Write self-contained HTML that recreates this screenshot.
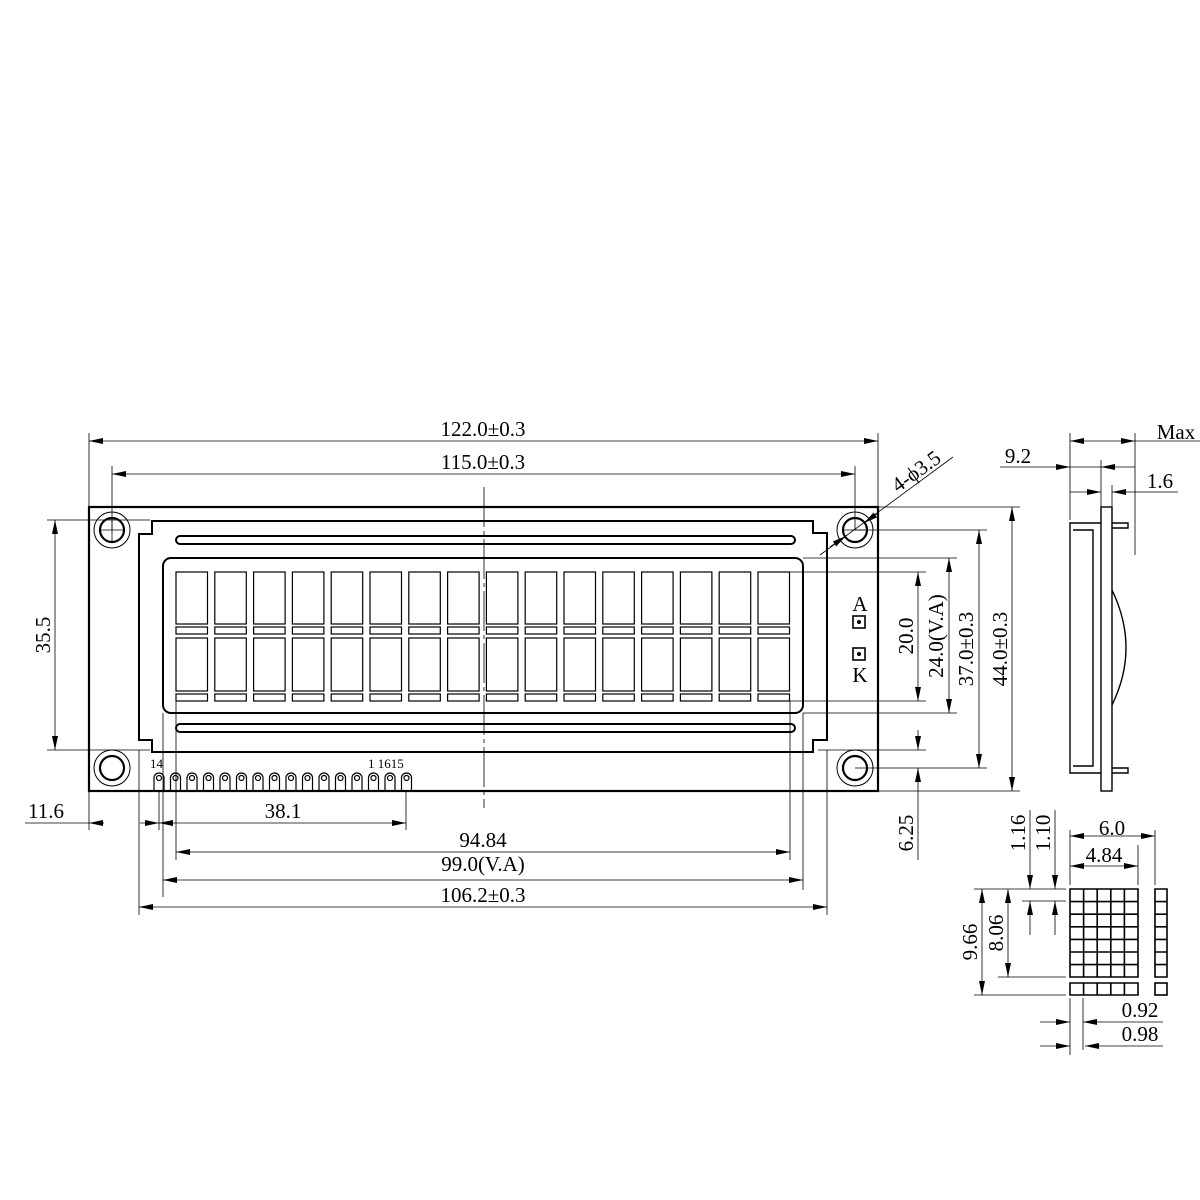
<!DOCTYPE html>
<html><head><meta charset="utf-8"><style>
html,body{margin:0;padding:0;background:#fff}
svg{display:block}
text{font-family:"Liberation Serif",serif;fill:#000}
</style></head><body>
<svg width="1200" height="1200" viewBox="0 0 1200 1200" xmlns="http://www.w3.org/2000/svg">
<defs>
<marker id="a" viewBox="0 0 14 6" refX="14" refY="3" markerWidth="14" markerHeight="6" markerUnits="userSpaceOnUse" orient="auto-start-reverse"><path d="M0,0 L14,3 L0,6z" fill="#000"/></marker>
</defs>
<g fill="none" stroke="#000" stroke-width="1">
<rect x="89" y="507" width="789" height="284" stroke-width="2.2"/>
<path d="M152,521 L813,521 L813,533 L827,533 L827,740 L813,740 L813,752 L152,752 L152,740 L139,740 L139,534 L152,534 Z" stroke-width="2"/>
<rect x="176" y="536" width="619" height="8" rx="4" stroke-width="2"/>
<rect x="176" y="724" width="619" height="8" rx="4" stroke-width="2"/>
<rect x="163" y="558" width="640" height="155" rx="8" stroke-width="2"/>
<circle cx="112" cy="530" r="18"/><circle cx="112" cy="530" r="12" stroke-width="2.2"/>
<circle cx="855" cy="530" r="18"/><circle cx="855" cy="530" r="12" stroke-width="2.2"/>
<circle cx="112" cy="768" r="18"/><circle cx="112" cy="768" r="12" stroke-width="2.2"/>
<circle cx="855" cy="768" r="18"/><circle cx="855" cy="768" r="12" stroke-width="2.2"/>
<rect x="853" y="616" width="12" height="12" stroke-width="1.6"/><circle cx="859" cy="622" r="1.5" fill="#000"/>
<rect x="853" y="648" width="12" height="12" stroke-width="1.6"/><circle cx="859" cy="654" r="1.5" fill="#000"/>
</g>
<g fill="none" stroke="#000" stroke-width="1.2">
<rect x="176" y="572" width="31.5" height="52"/><rect x="176" y="627" width="31.5" height="7"/><rect x="176" y="638" width="31.5" height="53"/><rect x="176" y="694" width="31.5" height="7"/>
<rect x="214.8" y="572" width="31.5" height="52"/><rect x="214.8" y="627" width="31.5" height="7"/><rect x="214.8" y="638" width="31.5" height="53"/><rect x="214.8" y="694" width="31.5" height="7"/>
<rect x="253.6" y="572" width="31.5" height="52"/><rect x="253.6" y="627" width="31.5" height="7"/><rect x="253.6" y="638" width="31.5" height="53"/><rect x="253.6" y="694" width="31.5" height="7"/>
<rect x="292.4" y="572" width="31.5" height="52"/><rect x="292.4" y="627" width="31.5" height="7"/><rect x="292.4" y="638" width="31.5" height="53"/><rect x="292.4" y="694" width="31.5" height="7"/>
<rect x="331.2" y="572" width="31.5" height="52"/><rect x="331.2" y="627" width="31.5" height="7"/><rect x="331.2" y="638" width="31.5" height="53"/><rect x="331.2" y="694" width="31.5" height="7"/>
<rect x="370" y="572" width="31.5" height="52"/><rect x="370" y="627" width="31.5" height="7"/><rect x="370" y="638" width="31.5" height="53"/><rect x="370" y="694" width="31.5" height="7"/>
<rect x="408.8" y="572" width="31.5" height="52"/><rect x="408.8" y="627" width="31.5" height="7"/><rect x="408.8" y="638" width="31.5" height="53"/><rect x="408.8" y="694" width="31.5" height="7"/>
<rect x="447.6" y="572" width="31.5" height="52"/><rect x="447.6" y="627" width="31.5" height="7"/><rect x="447.6" y="638" width="31.5" height="53"/><rect x="447.6" y="694" width="31.5" height="7"/>
<rect x="486.4" y="572" width="31.5" height="52"/><rect x="486.4" y="627" width="31.5" height="7"/><rect x="486.4" y="638" width="31.5" height="53"/><rect x="486.4" y="694" width="31.5" height="7"/>
<rect x="525.2" y="572" width="31.5" height="52"/><rect x="525.2" y="627" width="31.5" height="7"/><rect x="525.2" y="638" width="31.5" height="53"/><rect x="525.2" y="694" width="31.5" height="7"/>
<rect x="564" y="572" width="31.5" height="52"/><rect x="564" y="627" width="31.5" height="7"/><rect x="564" y="638" width="31.5" height="53"/><rect x="564" y="694" width="31.5" height="7"/>
<rect x="602.8" y="572" width="31.5" height="52"/><rect x="602.8" y="627" width="31.5" height="7"/><rect x="602.8" y="638" width="31.5" height="53"/><rect x="602.8" y="694" width="31.5" height="7"/>
<rect x="641.6" y="572" width="31.5" height="52"/><rect x="641.6" y="627" width="31.5" height="7"/><rect x="641.6" y="638" width="31.5" height="53"/><rect x="641.6" y="694" width="31.5" height="7"/>
<rect x="680.4" y="572" width="31.5" height="52"/><rect x="680.4" y="627" width="31.5" height="7"/><rect x="680.4" y="638" width="31.5" height="53"/><rect x="680.4" y="694" width="31.5" height="7"/>
<rect x="719.2" y="572" width="31.5" height="52"/><rect x="719.2" y="627" width="31.5" height="7"/><rect x="719.2" y="638" width="31.5" height="53"/><rect x="719.2" y="694" width="31.5" height="7"/>
<rect x="758" y="572" width="31.5" height="52"/><rect x="758" y="627" width="31.5" height="7"/><rect x="758" y="638" width="31.5" height="53"/><rect x="758" y="694" width="31.5" height="7"/>
</g>
<g fill="none" stroke="#000" stroke-width="1.2">
<path d="M154,791 V778 a5,5 0 0 1 10,0 V791"/><circle cx="159" cy="778" r="2.5"/>
<path d="M170.5,791 V778 a5,5 0 0 1 10,0 V791"/><circle cx="175.5" cy="778" r="2.5"/>
<path d="M187,791 V778 a5,5 0 0 1 10,0 V791"/><circle cx="192" cy="778" r="2.5"/>
<path d="M203.5,791 V778 a5,5 0 0 1 10,0 V791"/><circle cx="208.5" cy="778" r="2.5"/>
<path d="M220,791 V778 a5,5 0 0 1 10,0 V791"/><circle cx="225" cy="778" r="2.5"/>
<path d="M236.5,791 V778 a5,5 0 0 1 10,0 V791"/><circle cx="241.5" cy="778" r="2.5"/>
<path d="M253,791 V778 a5,5 0 0 1 10,0 V791"/><circle cx="258" cy="778" r="2.5"/>
<path d="M269.5,791 V778 a5,5 0 0 1 10,0 V791"/><circle cx="274.5" cy="778" r="2.5"/>
<path d="M286,791 V778 a5,5 0 0 1 10,0 V791"/><circle cx="291" cy="778" r="2.5"/>
<path d="M302.5,791 V778 a5,5 0 0 1 10,0 V791"/><circle cx="307.5" cy="778" r="2.5"/>
<path d="M319,791 V778 a5,5 0 0 1 10,0 V791"/><circle cx="324" cy="778" r="2.5"/>
<path d="M335.5,791 V778 a5,5 0 0 1 10,0 V791"/><circle cx="340.5" cy="778" r="2.5"/>
<path d="M352,791 V778 a5,5 0 0 1 10,0 V791"/><circle cx="357" cy="778" r="2.5"/>
<path d="M368.5,791 V778 a5,5 0 0 1 10,0 V791"/><circle cx="373.5" cy="778" r="2.5"/>
<path d="M385,791 V778 a5,5 0 0 1 10,0 V791"/><circle cx="390" cy="778" r="2.5"/>
<path d="M401.5,791 V778 a5,5 0 0 1 10,0 V791"/><circle cx="406.5" cy="778" r="2.5"/>
</g>
<g stroke="#000" stroke-width="0.8" fill="none">
<path d="M484,487 V808" stroke-dasharray="40,4,4,4"/>
<path d="M100,530 H125 M112,518 V542 M843,530 H867"/>
</g>
<g stroke="#000" stroke-width="0.8" fill="none">
<path d="M89,433 V507 M878,433 V507"/>
<line x1="89" y1="441" x2="878" y2="441" marker-start="url(#a)" marker-end="url(#a)"/>
<path d="M112,466 V530 M855,466 V530"/>
<line x1="112" y1="474" x2="855" y2="474" marker-start="url(#a)" marker-end="url(#a)"/>
<line x1="820" y1="555" x2="953" y2="457"/>
<line x1="830" y1="547" x2="846" y2="536" marker-end="url(#a)"/>
<line x1="878" y1="513" x2="864" y2="523" marker-end="url(#a)"/>
<path d="M878,507 H1020 M878,791 H1020"/>
<line x1="1012" y1="507" x2="1012" y2="791" marker-start="url(#a)" marker-end="url(#a)"/>
<path d="M855,530 H987 M855,768 H987"/>
<line x1="979" y1="530" x2="979" y2="768" marker-start="url(#a)" marker-end="url(#a)"/>
<path d="M803,558 H957 M803,713 H957"/>
<line x1="949" y1="558" x2="949" y2="713" marker-start="url(#a)" marker-end="url(#a)"/>
<path d="M790,572 H926 M790,701 H926"/>
<line x1="918" y1="572" x2="918" y2="701" marker-start="url(#a)" marker-end="url(#a)"/>
<path d="M818,750 H926"/>
<line x1="918" y1="730" x2="918" y2="750" marker-end="url(#a)"/>
<line x1="918" y1="790" x2="918" y2="768" marker-end="url(#a)"/>
<line x1="918" y1="790" x2="918" y2="860"/>
<path d="M47,520 H150 M47,750 H150"/>
<line x1="55" y1="520" x2="55" y2="750" marker-start="url(#a)" marker-end="url(#a)"/>
<path d="M89,791 V830 M139,750 V915 M159,791 V830 M163,713 V897 M176,701 V860 M406,791 V830 M790,701 V860 M803,713 V890 M827,750 V915"/>
<line x1="25" y1="823" x2="89" y2="823"/>
<line x1="104" y1="823" x2="89" y2="823" marker-end="url(#a)"/>
<line x1="140" y1="823" x2="159" y2="823" marker-end="url(#a)"/>
<line x1="159" y1="823" x2="406" y2="823" marker-start="url(#a)" marker-end="url(#a)"/>
<line x1="176" y1="852" x2="790" y2="852" marker-start="url(#a)" marker-end="url(#a)"/>
<line x1="163" y1="880" x2="803" y2="880" marker-start="url(#a)" marker-end="url(#a)"/>
<line x1="139" y1="907" x2="827" y2="907" marker-start="url(#a)" marker-end="url(#a)"/>
</g>
<g fill="none" stroke="#000" stroke-width="1.4">
<rect x="1101" y="507" width="11" height="284"/>
<path d="M1101,523 H1070 V773 H1101 M1073,530 H1093 V766 H1073"/>
<path d="M1112,523 H1128 V528 H1112 M1112,768 H1128 V773 H1112"/>
<path d="M1112,590 Q1140,648 1112,705"/>
</g>
<g stroke="#000" stroke-width="0.8" fill="none">
<path d="M1070,433 V520 M1135,433 V555 M1101,460 V507 M1112,485 V507"/>
<line x1="1070" y1="441" x2="1135" y2="441" marker-start="url(#a)" marker-end="url(#a)"/>
<line x1="1135" y1="441" x2="1200" y2="441"/>
<line x1="1000" y1="467" x2="1070" y2="467" marker-end="url(#a)"/>
<line x1="1135" y1="467" x2="1101" y2="467" marker-end="url(#a)"/>
<line x1="1070" y1="467" x2="1101" y2="467"/>
<line x1="1070" y1="492" x2="1101" y2="492" marker-end="url(#a)"/>
<line x1="1178" y1="492" x2="1112" y2="492" marker-end="url(#a)"/>
</g>
<g fill="none" stroke="#000" stroke-width="1.6">
<path d="M1070,889 H1138 V977 H1070 Z M1070,901.6 H1138 M1070,914.2 H1138 M1070,926.8 H1138 M1070,939.4 H1138 M1070,952 H1138 M1070,964.6 H1138 M1083.6,889 V977 M1097.2,889 V977 M1110.8,889 V977 M1124.4,889 V977"/>
<path d="M1070,983 H1138 V995 H1070 Z M1083.6,983 V995 M1097.2,983 V995 M1110.8,983 V995 M1124.4,983 V995"/>
<path d="M1155,889 H1167 V977 H1155 Z M1155,901.6 H1167 M1155,914.2 H1167 M1155,926.8 H1167 M1155,939.4 H1167 M1155,952 H1167 M1155,964.6 H1167"/>
<rect x="1155" y="983" width="12" height="12"/>
</g>
<g stroke="#000" stroke-width="0.8" fill="none">
<path d="M1070,830 V885 M1155,830 V885 M1138,845 V885"/>
<line x1="1070" y1="836" x2="1155" y2="836" marker-start="url(#a)" marker-end="url(#a)"/>
<line x1="1070" y1="866" x2="1138" y2="866" marker-start="url(#a)" marker-end="url(#a)"/>
<path d="M974,889 H1066 M998,977 H1066 M974,995 H1066 M1022,901 H1066"/>
<line x1="982" y1="889" x2="982" y2="995" marker-start="url(#a)" marker-end="url(#a)"/>
<line x1="1008" y1="889" x2="1008" y2="977" marker-start="url(#a)" marker-end="url(#a)"/>
<line x1="1030" y1="810" x2="1030" y2="889" marker-end="url(#a)"/>
<line x1="1030" y1="935" x2="1030" y2="901" marker-end="url(#a)"/>
<line x1="1055" y1="810" x2="1055" y2="889" marker-end="url(#a)"/>
<line x1="1055" y1="935" x2="1055" y2="901" marker-end="url(#a)"/>
<path d="M1070,998 V1055 M1083,998 V1050"/>
<line x1="1040" y1="1022" x2="1070" y2="1022" marker-end="url(#a)"/>
<line x1="1163" y1="1022" x2="1083" y2="1022" marker-end="url(#a)"/>
<line x1="1040" y1="1046" x2="1070" y2="1046" marker-end="url(#a)"/>
<line x1="1163" y1="1046" x2="1085" y2="1046" marker-end="url(#a)"/>
</g>
<g font-size="21">
<text x="483" y="436" text-anchor="middle">122.0±0.3</text>
<text x="483" y="469" text-anchor="middle">115.0±0.3</text>
<text x="0" y="0" transform="translate(898,493) rotate(-36)">4-ϕ3.5</text>
<text x="860" y="611" text-anchor="middle">A</text>
<text x="860" y="682" text-anchor="middle">K</text>
<text transform="translate(913,636) rotate(-90)" text-anchor="middle">20.0</text>
<text transform="translate(943,636) rotate(-90)" text-anchor="middle">24.0(V.A)</text>
<text transform="translate(973,649) rotate(-90)" text-anchor="middle">37.0±0.3</text>
<text transform="translate(1007,649) rotate(-90)" text-anchor="middle">44.0±0.3</text>
<text transform="translate(50,635) rotate(-90)" text-anchor="middle">35.5</text>
<text transform="translate(913,833) rotate(-90)" text-anchor="middle">6.25</text>
<text x="46" y="818" text-anchor="middle">11.6</text>
<text x="283" y="818" text-anchor="middle">38.1</text>
<text x="483" y="847" text-anchor="middle">94.84</text>
<text x="483" y="871" text-anchor="middle">99.0(V.A)</text>
<text x="483" y="902" text-anchor="middle">106.2±0.3</text>
<text x="1176" y="439" text-anchor="middle">Max</text>
<text x="1018" y="463" text-anchor="middle">9.2</text>
<text x="1160" y="488" text-anchor="middle">1.6</text>
<text x="1112" y="835" text-anchor="middle">6.0</text>
<text x="1104" y="862" text-anchor="middle">4.84</text>
<text transform="translate(977,942) rotate(-90)" text-anchor="middle">9.66</text>
<text transform="translate(1003,933) rotate(-90)" text-anchor="middle">8.06</text>
<text transform="translate(1025,833) rotate(-90)" text-anchor="middle">1.16</text>
<text transform="translate(1050,833) rotate(-90)" text-anchor="middle">1.10</text>
<text x="1140" y="1017" text-anchor="middle">0.92</text>
<text x="1140" y="1041" text-anchor="middle">0.98</text>
</g>
<g font-size="13">
<text x="150" y="768">14</text>
<text x="368" y="768">1 1615</text>
</g>
</svg>
</body></html>
